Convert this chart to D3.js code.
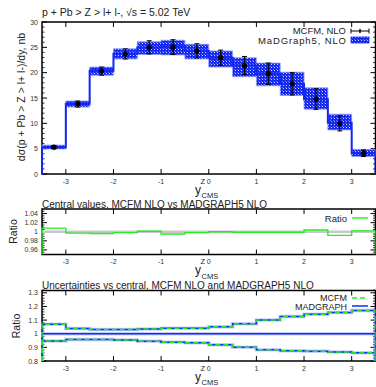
<!DOCTYPE html>
<html><head><meta charset="utf-8">
<script src="https://cdn.jsdelivr.net/npm/d3@7/dist/d3.min.js"></script>
<style>body{margin:0;background:#fff}svg{display:block;font-family:"Liberation Sans",Arial,sans-serif}</style>
</head><body><svg id="c" width="376" height="387"></svg>
<script>
// ---------------- DATA ----------------
const binEdges   = [-3.5,-3,-2.5,-2,-1.5,-1,-0.5,0,0.5,1,1.5,2,2.5,3,3.5];
const binCenters = [-3.25,-2.75,-2.25,-1.75,-1.25,-0.75,-0.25,0.25,0.75,1.25,1.75,2.25,2.75,3.25];
const mcfm       = [5.3,13.8,20.3,23.7,25.0,25.05,24.3,22.95,21.4,19.8,17.8,14.8,10.0,4.1];
const mcfmErr    = [0.3,0.6,0.8,1.0,1.3,1.45,1.4,1.5,1.8,2.1,2.2,2.05,1.5,0.65];
const mgCentral  = [5.25,13.85,20.4,23.75,24.95,25.15,24.35,22.95,21.4,19.8,17.8,14.75,10.1,4.1];
const mgLow      = [4.95,13.2,19.5,22.7,23.6,23.5,22.7,21.1,19.2,17.4,15.5,12.8,8.7,3.45];
const mgHigh     = [5.7,14.4,21.1,24.7,26.1,26.4,25.6,24.3,22.95,21.9,20.1,17.0,11.8,4.85];
const ratioCentral = [1.008,0.997,0.996,0.998,1.001,0.995,0.998,1.0,0.999,0.999,0.999,1.004,0.992,1.002];
const uncMcfmUp  = [1.070,1.039,1.031,1.031,1.034,1.041,1.041,1.051,1.073,1.100,1.126,1.143,1.156,1.170];
const uncMcfmLo  = [0.946,0.958,0.958,0.954,0.945,0.938,0.934,0.920,0.900,0.883,0.876,0.871,0.866,0.861];
const uncMgUp    = [1.070,1.039,1.031,1.031,1.034,1.041,1.041,1.051,1.073,1.100,1.126,1.143,1.156,1.170];
const uncMgLo    = [0.946,0.958,0.958,0.954,0.945,0.938,0.934,0.920,0.900,0.883,0.876,0.871,0.866,0.861];
const uncMgCentral = [1,1,1,1,1,1,1,1,1,1,1,1,1,1];
const xTicks  = [-3,-2,-1,0,1,2,3];
const y1Ticks = [0,5,10,15,20,25,30];
const y2Ticks = [0.96,0.98,1,1.02,1.04];
const y2Labels = ["0.96","0.98","1","1.02","1.04"];
const y3Ticks = [0.8,0.9,1,1.1,1.2,1.3];
const y3Labels = ["0.8","0.9","1","1.1","1.2","1.3"];

// ---------------- LAYOUT ----------------
const svg = d3.select("#c");
const L = 42, R = 375.5;
const x = d3.scaleLinear().domain([-3.5,3.5]).range([L,R]);
const panels = [
  {top:22, bottom:174, dom:[0,30]},
  {top:209, bottom:254.5, dom:[0.95,1.05]},
  {top:290.5, bottom:361, dom:[0.8,1.317]}
];
panels.forEach(p => p.y = d3.scaleLinear().domain(p.dom).range([p.bottom,p.top]));

const defs = svg.append("defs");
const pat = defs.append("pattern").attr("id","chk").attr("patternUnits","userSpaceOnUse")
  .attr("width",3).attr("height",3);
pat.append("rect").attr("width",3).attr("height",3).attr("fill","#1428f0");
pat.append("rect").attr("x",1).attr("y",1).attr("width",1).attr("height",1).attr("fill","#c8cfff");
pat.append("rect").attr("x",0).attr("y",0).attr("width",1).attr("height",1).attr("fill","#6070ff");
panels.forEach((p,i) => {
  defs.append("clipPath").attr("id","clip"+i).append("rect")
    .attr("x",L-1).attr("y",p.top).attr("width",R-L+1).attr("height",p.bottom-p.top);
});

function stepPts(vals, base){
  const pts = [[binEdges[0], base]];
  vals.forEach((v,i)=>pts.push([binEdges[i], v]));
  pts.push([binEdges[binEdges.length-1], vals[vals.length-1]]);
  pts.push([binEdges[binEdges.length-1], base]);
  return pts;
}
function stepPath(p, vals, base){
  return d3.line().x(d=>x(d[0])).y(d=>p.y(d[1])).curve(d3.curveStepAfter)(stepPts(vals, base));
}

function drawFrame(p, yTicks, yLabels, yMinor){
  const g = svg.append("g");
  yMinor.forEach(v=>{
    const yy = p.y(v);
    g.append("line").attr("x1",L).attr("x2",L+2.5).attr("y1",yy).attr("y2",yy).attr("stroke","#000").attr("stroke-width",0.8);
    g.append("line").attr("x1",R).attr("x2",R-2.5).attr("y1",yy).attr("y2",yy).attr("stroke","#000").attr("stroke-width",0.8);
  });
  yTicks.forEach((v,i)=>{
    const yy = p.y(v);
    g.append("line").attr("x1",L).attr("x2",L+5).attr("y1",yy).attr("y2",yy).attr("stroke","#000").attr("stroke-width",1);
    g.append("line").attr("x1",R).attr("x2",R-5).attr("y1",yy).attr("y2",yy).attr("stroke","#000").attr("stroke-width",1);
    g.append("text").attr("x",38).attr("y",yy+2.5).attr("text-anchor","end")
      .attr("font-size",7).attr("fill","#333").text(yLabels ? yLabels[i] : v);
  });
  xTicks.forEach(v=>{
    const xx = x(v);
    g.append("line").attr("x1",xx).attr("x2",xx).attr("y1",p.bottom).attr("y2",p.bottom-5).attr("stroke","#000").attr("stroke-width",1);
    g.append("line").attr("x1",xx).attr("x2",xx).attr("y1",p.top).attr("y2",p.top+5).attr("stroke","#000").attr("stroke-width",1);
    g.append("text").attr("x",xx).attr("y",p.bottom+9.5).attr("text-anchor","middle")
      .attr("font-size",7).attr("fill","#333").text(v);
  });
  g.append("rect").attr("x",L).attr("y",p.top).attr("width",R-L).attr("height",p.bottom-p.top)
    .attr("fill","none").attr("stroke","#000").attr("stroke-width",1.5);
}
function xLabel(cy, zUp, subDown){
  const g = svg.append("g").attr("fill","#222");
  g.append("text").attr("x",195).attr("y",cy).attr("font-size",12).text("y");
  g.append("text").attr("x",200.5).attr("y",cy-zUp).attr("font-size",7.5).text("Z");
  g.append("text").attr("x",201.5).attr("y",cy+subDown).attr("font-size",7.5).text("CMS");
}

// ---------------- PANEL 1 ----------------
const p1 = panels[0];
const minor1 = d3.range(0,31,1).filter(v=>v%5!==0);
drawFrame(p1, y1Ticks, null, minor1);
const g1 = svg.append("g").attr("clip-path","url(#clip0)");
const bandPts = mgLow.map((v,i)=>[binEdges[i], v, mgHigh[i]]);
bandPts.push([binEdges[14], mgLow[13], mgHigh[13]]);
g1.append("path").attr("d", d3.area().x(d=>x(d[0])).y0(d=>p1.y(d[1])).y1(d=>p1.y(d[2])).curve(d3.curveStepAfter)(bandPts))
  .attr("fill","url(#chk)").attr("stroke","#8a96ff").attr("stroke-width",0.8);
g1.append("path").attr("d", stepPath(p1, mgCentral, 0)).attr("fill","none").attr("stroke","#1428f0").attr("stroke-width",2);
binCenters.forEach((c,i)=>{
  const xx = x(c), y0 = p1.y(mcfm[i]-mcfmErr[i]), y1 = p1.y(mcfm[i]+mcfmErr[i]);
  g1.append("line").attr("x1",xx).attr("x2",xx).attr("y1",y0).attr("y2",y1).attr("stroke","#000").attr("stroke-width",1.2);
  g1.append("line").attr("x1",xx-2.5).attr("x2",xx+2.5).attr("y1",y0).attr("y2",y0).attr("stroke","#000").attr("stroke-width",1);
  g1.append("line").attr("x1",xx-2.5).attr("x2",xx+2.5).attr("y1",y1).attr("y2",y1).attr("stroke","#000").attr("stroke-width",1);
  g1.append("circle").attr("cx",xx).attr("cy",p1.y(mcfm[i])).attr("r",2.6).attr("fill","#000");
});
svg.append("text").attr("x",42).attr("y",16).attr("font-size",10.5).attr("fill","#222").text("p + Pb > Z > l+ l-, \u221As = 5.02 TeV");
svg.append("text").attr("transform","translate(25,97) rotate(-90)").attr("text-anchor","middle")
  .attr("font-size",10.5).attr("fill","#222").text("d\u03C3(p + Pb > Z > l+ l-)/dy, nb");
xLabel(194, 10.5, 3.5);
// legend 1
svg.append("text").attr("x",346).attr("y",34).attr("text-anchor","end").attr("font-size",9.5).attr("fill","#222").text("MCFM, NLO");
svg.append("line").attr("x1",351).attr("x2",369).attr("y1",31).attr("y2",31).attr("stroke","#000").attr("stroke-width",1);
[351,369].forEach(xx=>svg.append("line").attr("x1",xx).attr("x2",xx).attr("y1",28.5).attr("y2",33.5).attr("stroke","#000").attr("stroke-width",1));
svg.append("line").attr("x1",360).attr("x2",360).attr("y1",29).attr("y2",33).attr("stroke","#000").attr("stroke-width",1.5);
svg.append("text").attr("x",346).attr("y",43.5).attr("text-anchor","end").attr("font-size",9.5).attr("fill","#222")
  .attr("textLength",88).attr("lengthAdjust","spacing").text("MaDGraph5, NLO");
svg.append("rect").attr("x",351).attr("y",37).attr("width",18).attr("height",6).attr("fill","url(#chk)").attr("stroke","#1428f0").attr("stroke-width",0.8);

// ---------------- PANEL 2 ----------------
const p2 = panels[1];
const minor2 = [0.955,0.965,0.97,0.975,0.985,0.99,0.995,1.005,1.01,1.015,1.025,1.03,1.035,1.045];
drawFrame(p2, y2Ticks, y2Labels, minor2);
const g2 = svg.append("g").attr("clip-path","url(#clip1)");
g2.append("line").attr("x1",L).attr("x2",R).attr("y1",p2.y(1)).attr("y2",p2.y(1)).attr("stroke","#c8c8c8").attr("stroke-width",2.5);
g2.append("path").attr("d", stepPath(p2, ratioCentral, 0.95)).attr("fill","none").attr("stroke","#22ee22").attr("stroke-width",1.4);
svg.append("text").attr("x",42).attr("y",207.5).attr("font-size",10).attr("fill","#222").text("Central values, MCFM NLO vs MADGRAPH5 NLO");
svg.append("text").attr("transform","translate(17,231.5) rotate(-90)").attr("text-anchor","middle").attr("font-size",10.5).attr("fill","#222").text("Ratio");
xLabel(273.5, 10, 5);
svg.append("text").attr("x",347).attr("y",221.5).attr("text-anchor","end").attr("font-size",9.5).attr("fill","#222").text("Ratio");
svg.append("line").attr("x1",352).attr("x2",368).attr("y1",218).attr("y2",218).attr("stroke","#22ee22").attr("stroke-width",1.4);

// ---------------- PANEL 3 ----------------
const p3 = panels[2];
const minor3 = d3.range(0.8,1.3201,0.02).filter(v=>Math.round(v*100)%10!==0);
drawFrame(p3, y3Ticks, y3Labels, minor3);
const g3 = svg.append("g").attr("clip-path","url(#clip2)");
[uncMgUp, uncMgLo, uncMgCentral].forEach(arr=>{
  g3.append("path").attr("d", stepPath(p3, arr, 0.8)).attr("fill","none").attr("stroke","#9fb0ff").attr("stroke-width",3.5).attr("stroke-opacity",0.6);
  g3.append("path").attr("d", stepPath(p3, arr, 0.8)).attr("fill","none").attr("stroke","#1428f0").attr("stroke-width",1.5);
});
[uncMcfmUp, uncMcfmLo].forEach(arr=>{
  g3.append("path").attr("d", stepPath(p3, arr, 0.8)).attr("fill","none").attr("stroke","#22ee22").attr("stroke-width",1.5).attr("stroke-dasharray","5,3");
});
svg.append("text").attr("x",42).attr("y",288.5).attr("font-size",10).attr("fill","#222").text("Uncertainties vs central, MCFM NLO and MADGRAPH5 NLO");
svg.append("text").attr("transform","translate(20,326) rotate(-90)").attr("text-anchor","middle").attr("font-size",10.5).attr("fill","#222").text("Ratio");
xLabel(380.5, 9.5, 4.5);
svg.append("text").attr("x",347).attr("y",301).attr("text-anchor","end").attr("font-size",9).attr("fill","#222").text("MCFM");
svg.append("line").attr("x1",352).attr("x2",368).attr("y1",298).attr("y2",298).attr("stroke","#22ee22").attr("stroke-width",1.5).attr("stroke-dasharray","5,3");
svg.append("text").attr("x",347).attr("y",309.5).attr("text-anchor","end").attr("font-size",9).attr("fill","#222").text("MADGRAPH");
svg.append("line").attr("x1",352).attr("x2",368).attr("y1",306).attr("y2",306).attr("stroke","#1428f0").attr("stroke-width",1.5);
</script></body></html>
